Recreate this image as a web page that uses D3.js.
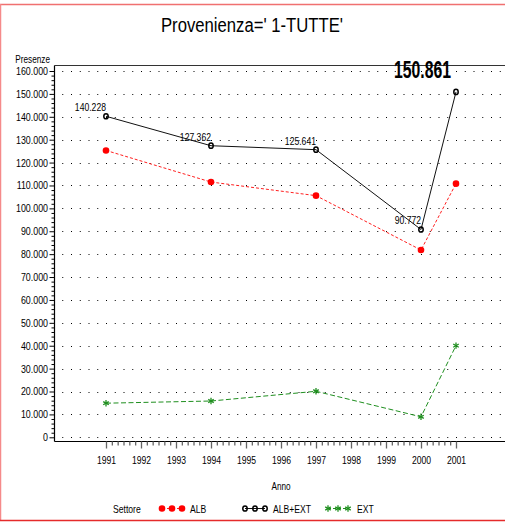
<!DOCTYPE html>
<html><head><meta charset="utf-8">
<script src="https://cdn.jsdelivr.net/npm/d3@7"></script>
<style>
html,body{margin:0;padding:0;background:#fff;}
svg{display:block;}
text{font-family:'Liberation Sans',Arial,sans-serif;fill:#000;}
</style></head>
<body>
<script>
const years = [1991, 1994, 1997, 2000, 2001];
const alb = [125300, 111500, 105550, 81800, 110800];
const albExt = [140228, 127362, 125641, 90772, 150861];
const ext = [14900, 15850, 20100, 8950, 40050];
const xTickLabels = [1991,1992,1993,1994,1995,1996,1997,1998,1999,2000,2001];
const yTickValues = [0,10000,20000,30000,40000,50000,60000,70000,80000,90000,100000,110000,120000,130000,140000,150000,160000];
const seriesNames = ["ALB", "ALB+EXT", "EXT"];
const title = "Provenienza=' 1-TUTTE'";

const W = 505, H = 522;
const NARROW = 0.82;
const svg = d3.select("body").append("svg").attr("width", W).attr("height", H);

const loc = d3.formatLocale({decimal:",", thousands:".", grouping:[3], currency:["",""]});
const fmt = loc.format(",");

const x = d3.scaleLinear().domain([1991, 2001]).range([106, 456]);
const y = d3.scaleLinear().domain([0, 160000]).range([437.3, 71]);
const axisX = 54.5, frameTop = 65.5, axisBottom = 441.5;

// red border
svg.append("line").attr("x1",0).attr("x2",W).attr("y1",4.5).attr("y2",4.5).attr("stroke","#f07070").attr("stroke-width",1.5);
svg.append("line").attr("x1",0.5).attr("x2",0.5).attr("y1",4).attr("y2",521).attr("stroke","#f58a8a").attr("stroke-width",1.5);
svg.append("line").attr("x1",0).attr("x2",W).attr("y1",520.5).attr("y2",520.5).attr("stroke","#e52b2b").attr("stroke-width",1.5);

// title
svg.append("text").attr("class","fixed").attr("x",252).attr("y",32).attr("text-anchor","middle")
  .style("font-size","20px").attr("fill","#222").attr("textLength",182).attr("lengthAdjust","spacingAndGlyphs").text(title);

// gridlines (dotted)
const gx0 = x(1989.75);
svg.append("g").selectAll("line").data(yTickValues).join("line")
  .attr("x1", gx0).attr("x2", W).attr("y1", d=>Math.round(y(d))+0.5).attr("y2", d=>Math.round(y(d))+0.5)
  .attr("stroke","#000").attr("stroke-width",1)
  .attr("stroke-dasharray", `1 ${x(1991.25)-x(1991)-1}`);

// frame lines
svg.append("line").attr("x1",axisX).attr("x2",W).attr("y1",frameTop).attr("y2",frameTop).attr("stroke","#333").attr("stroke-width",1.2);
svg.append("line").attr("x1",axisX).attr("x2",axisX).attr("y1",frameTop).attr("y2",axisBottom).attr("stroke","#000").attr("stroke-width",1.2);
svg.append("line").attr("x1",axisX).attr("x2",W).attr("y1",axisBottom).attr("y2",axisBottom).attr("stroke","#000").attr("stroke-width",1.2);

// y axis
const minorY = d3.range(0, 160001, 2000).filter(v => v % 10000 !== 0);
const gyMinor = svg.append("g").attr("transform",`translate(${axisX},0)`)
  .call(d3.axisLeft(y).tickValues(minorY).tickSize(3).tickFormat(""));
gyMinor.select(".domain").remove();
const gy = svg.append("g").attr("transform",`translate(${axisX},0)`)
  .call(d3.axisLeft(y).tickValues(yTickValues).tickSize(5).tickPadding(1.5).tickFormat(fmt));
gy.select(".domain").remove();
gy.selectAll("text").style("font-size","10.8px").attr("fill","#000");
svg.selectAll(".tick line").attr("stroke","#000");

svg.append("text").attr("x",50).attr("y",62.5).attr("text-anchor","end").style("font-size","10px").text("Presenze");

// x axis
const minorX = d3.range(0, 61).map(i => 1991 + i/6).filter((v,i) => i % 6 !== 0);
const gxMinor = svg.append("g").attr("transform",`translate(0,${axisBottom})`)
  .call(d3.axisBottom(x).tickValues(minorX).tickSize(4).tickFormat(""));
gxMinor.select(".domain").remove();
gxMinor.selectAll(".tick line").attr("stroke","#666").attr("stroke-width",1.3);
const gxA = svg.append("g").attr("transform",`translate(0,${axisBottom})`)
  .call(d3.axisBottom(x).tickValues(xTickLabels).tickSize(7).tickPadding(8).tickFormat(d3.format("d")));
gxA.select(".domain").remove();
gxA.selectAll(".tick line").attr("stroke","#666").attr("stroke-width",1.3);
gxA.selectAll("text").style("font-size","10.5px").attr("fill","#000");

svg.append("text").attr("x",281).attr("y",490).attr("text-anchor","middle").style("font-size","10px").text("Anno");

// series
const data = years.map((yr,i)=>({yr, alb:alb[i], albExt:albExt[i], ext:ext[i]}));
const line = key => d3.line().x(d=>x(d.yr)).y(d=>y(d[key]));

svg.append("path").datum(data).attr("d", line("alb")).attr("fill","none").attr("stroke","#ff2020").attr("stroke-width",1).attr("stroke-dasharray","3 2");
svg.append("path").datum(data).attr("d", line("albExt")).attr("fill","none").attr("stroke","#111").attr("stroke-width",1);
svg.append("path").datum(data).attr("d", line("ext")).attr("fill","none").attr("stroke","#1f8f1f").attr("stroke-width",1).attr("stroke-dasharray","5 2.5");

function circleMarker(g, cx, cy) {
  g.append("circle").attr("cx",cx).attr("cy",cy).attr("r",3.3).attr("fill","#ff0000");
}
function openMarker(g, cx, cy) {
  g.append("ellipse").attr("cx",cx).attr("cy",cy).attr("rx",2.2).attr("ry",2.6).attr("fill","none").attr("stroke","#000").attr("stroke-width",1.5);
}
function starMarker(g, cx, cy) {
  const r = 3.2;
  const gg = g.append("g").attr("stroke","#1f8f1f").attr("stroke-width",1.3);
  [[0,1],[0.87,0.5],[0.87,-0.5]].forEach(([a,b])=>{
    gg.append("line").attr("x1",cx-a*r).attr("y1",cy-b*r).attr("x2",cx+a*r).attr("y2",cy+b*r);
  });
}
const mk = svg.append("g");
data.forEach(d=>{
  circleMarker(mk, x(d.yr), y(d.alb));
  openMarker(mk, x(d.yr), y(d.albExt));
  starMarker(mk, x(d.yr), y(d.ext));
});

// data labels for ALB+EXT
data.forEach((d,i)=>{
  const last = i === data.length-1;
  const t = svg.append("text").attr("text-anchor","end")
    .attr("x", x(d.yr) - (last ? 5 : 0))
    .attr("y", y(d.albExt) - (last ? 14 : 5))
    .text(fmt(d.albExt));
  if (last) t.attr("class","fixed").style("font-size","24px").style("font-weight","bold").attr("textLength",57).attr("lengthAdjust","spacingAndGlyphs");
  else t.style("font-size","10.5px");
});

// legend
const ly = 508.5;
svg.append("text").attr("x",113).attr("y",ly+4).style("font-size","10.5px").text("Settore");
const legendItems = [
  {name: seriesNames[0], x0: 162, color:"#ff2020", dash:"3 2", marker: circleMarker, tx:190},
  {name: seriesNames[1], x0: 245, color:"#111", dash:null, marker: openMarker, tx:273},
  {name: seriesNames[2], x0: 328, color:"#1f8f1f", dash:"3 2", marker: starMarker, tx:357},
];
legendItems.forEach(it=>{
  const g = svg.append("g");
  g.append("line").attr("x1",it.x0).attr("x2",it.x0+20).attr("y1",ly).attr("y2",ly)
    .attr("stroke",it.color).attr("stroke-width",1).attr("stroke-dasharray",it.dash);
  [0,10,20].forEach(o=>it.marker(g, it.x0+o, ly));
  g.append("text").attr("x",it.tx).attr("y",ly+4).style("font-size","10.5px").text(it.name);
});

// narrow (condensed) look for all ordinary texts
svg.selectAll("text:not(.fixed)").each(function(){
  const len = this.getComputedTextLength();
  if (len > 0) d3.select(this).attr("textLength", len*NARROW).attr("lengthAdjust","spacingAndGlyphs");
});
</script>
</body></html>
